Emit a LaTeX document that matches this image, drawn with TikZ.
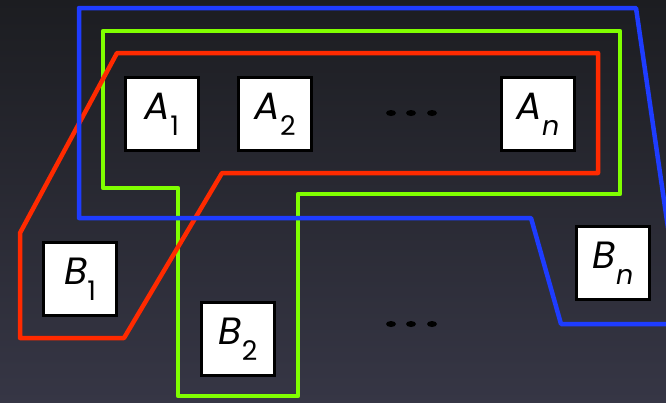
\documentclass[tikz,border=0pt]{standalone}
\usepackage{fontspec}
\setmainfont{Poppins}
\usetikzlibrary{shapes.geometric}
\definecolor{bgtop}{HTML}{1C1D21}
\definecolor{bgbot}{HTML}{363645}
\definecolor{kblue}{HTML}{1E3CFF}
\definecolor{kgreen}{HTML}{80FF00}
\definecolor{kred}{HTML}{FF2A00}
\newcommand{\lbl}[2]{\textit{#1}\raisebox{-0.42em}{\fontsize{27}{27}\selectfont #2}}
\tikzset{
  setbox/.style={draw=black, line width=2.5pt, fill=white, minimum size=73pt, inner sep=0pt,
    font=\fontsize{38}{38}\selectfont, text=black},
  loop/.style={line width=4.5pt, line join=round},
  dot/.style={ellipse, fill=black, minimum width=10pt, minimum height=6pt, inner sep=0pt}
}
\begin{document}
\begin{tikzpicture}[x=1pt,y=-1pt]
\useasboundingbox (0,0) rectangle (666,402);
\shade[top color=bgtop, bottom color=bgbot] (0,0) rectangle (666,402);
% nodes
\node[setbox] (A1) at (162,114) {\lbl{A}{1}};
\node[setbox] (A2) at (275,114) {\lbl{A}{2}};
\node[setbox] (An) at (538,114) {\lbl{A}{\textit{n}}};
\node[setbox] (B1) at (80,279) {\lbl{B}{1}};
\node[setbox] (B2) at (238,339) {\lbl{B}{2}};
\node[setbox] (Bn) at (613,263) {\lbl{B}{\textit{n}}};
\node[dot] (ad1) at (391,113) {};
\node[dot] (ad2) at (411,113) {};
\node[dot] (ad3) at (432,113) {};
\node[dot] (bd1) at (391,324) {};
\node[dot] (bd2) at (411,324) {};
\node[dot] (bd3) at (432,324) {};
\begin{scope}
\clip (0,0) rectangle (666,402);
\draw[loop, kgreen] (103,31) -- (620,31) -- (620,194) -- (298,194) -- (298,396)
  -- (178,396) -- (178,188) -- (103,188) -- cycle;
\draw[loop, kred] (117,53) -- (598,53) -- (598,173) -- (222,173) -- (124,338)
  -- (20,338) -- (20,233) -- cycle;
\draw[loop, kblue] (79,8) -- (636,8) -- (682,324) -- (561,324) -- (531,218)
  -- (79,218) -- cycle;
\end{scope}
\end{tikzpicture}
\end{document}
